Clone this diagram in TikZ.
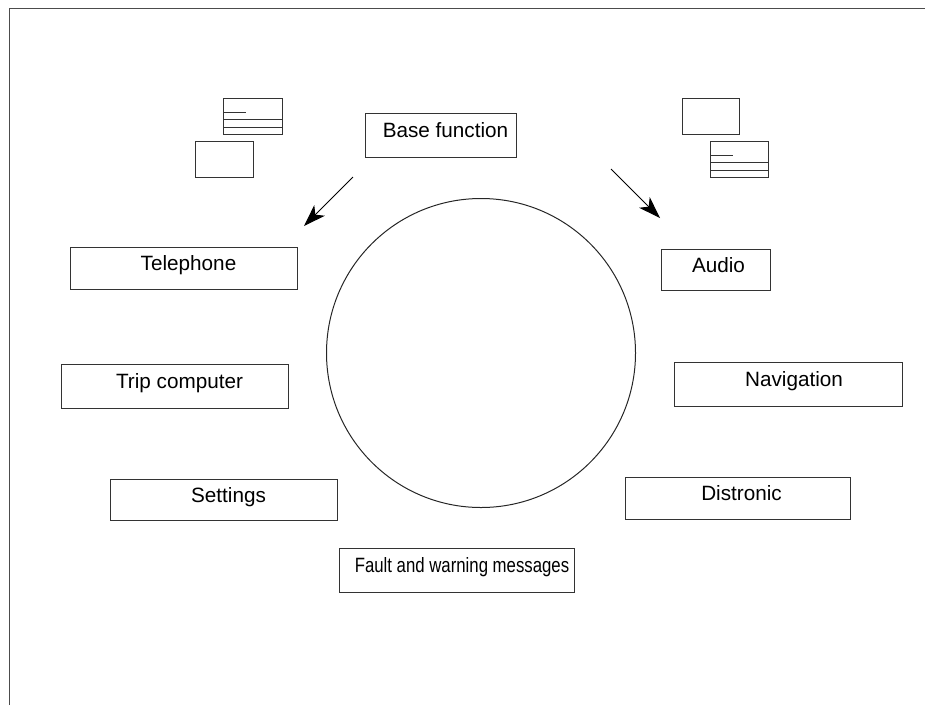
\documentclass[tikz,border=0pt]{standalone}
\usepackage{fontspec}
\usepackage{graphicx}
\setmainfont{Liberation Sans}
\usetikzlibrary{arrows.meta}
\begin{document}
\begin{tikzpicture}[x=1pt,y=-1pt,
    box/.style={draw=black!80,line width=1pt,rectangle,inner sep=0pt},
    lbl/.style={inner sep=0pt,font=\fontsize{20.7}{24}\selectfont,text height=12pt,text depth=7pt},
    icon/.style={draw=black!80,line width=1pt},
    pointer/.style={->,>={Stealth[length=22pt,width=15pt,inset=6pt]},line width=1pt}]
    \useasboundingbox (0,0) rectangle (925,705);
    \draw[line width=1pt,black!70] (9,705)--(9,8)--(925,8);
    % the wheel
    \node[circle,draw=black!85,line width=1pt,minimum size=309pt,inner sep=0pt] (wheel) at (481,353) {};
    % menus
    \node[box,minimum width=151,minimum height=44] (base) at (440.5,135) {};
    \node[lbl] (base-t) at ([xshift=5]base.center) {Base function};
    \node[box,minimum width=227,minimum height=42] (tel) at (183.5,268) {};
    \node[lbl] (tel-t) at ([xshift=5]tel.center) {Telephone};
    \node[box,minimum width=227,minimum height=44] (trip) at (174.5,386) {};
    \node[lbl] (trip-t) at ([xshift=5]trip.center) {Trip computer};
    \node[box,minimum width=227,minimum height=41] (set) at (223.5,499.5) {};
    \node[lbl] (set-t) at ([xshift=5]set.center) {Settings};
    \node[box,minimum width=235,minimum height=44] (fault) at (456.5,570) {};
    \node[lbl] (fault-t) at ([xshift=5.5]fault.center) {\scalebox{0.81}[1]{Fault and warning messages}};
    \node[box,minimum width=109,minimum height=41] (audio) at (715.5,269.5) {};
    \node[lbl] (audio-t) at ([xshift=3]audio.center) {Audio};
    \node[box,minimum width=228,minimum height=44] (nav) at (788,384) {};
    \node[lbl] (nav-t) at ([xshift=6]nav.center) {Navigation};
    \node[box,minimum width=225,minimum height=42] (dist) at (737.5,498) {};
    \node[lbl] (dist-t) at ([xshift=4]dist.center) {Distronic};
    % small screens
    \draw[icon] (223,98) rectangle (282,134);
    \draw[icon] (223,112)--(246,112) (223,119)--(282,119) (223,127)--(282,127);
    \draw[icon] (195,141) rectangle (253,177);
    \draw[icon] (682,98) rectangle (739,134);
    \draw[icon] (710,141) rectangle (768,177);
    \draw[icon] (710,155)--(733,155) (710,162)--(768,162) (710,170)--(768,170);
    % arrows
    \coordinate (l-from) at (353,177);
    \coordinate (l-to) at (304,226);
    \coordinate (r-from) at (611,169);
    \coordinate (r-to) at (660,218);
    \draw[pointer] (l-from)--(l-to);
    \draw[pointer] (r-from)--(r-to);
\end{tikzpicture}
\end{document}
